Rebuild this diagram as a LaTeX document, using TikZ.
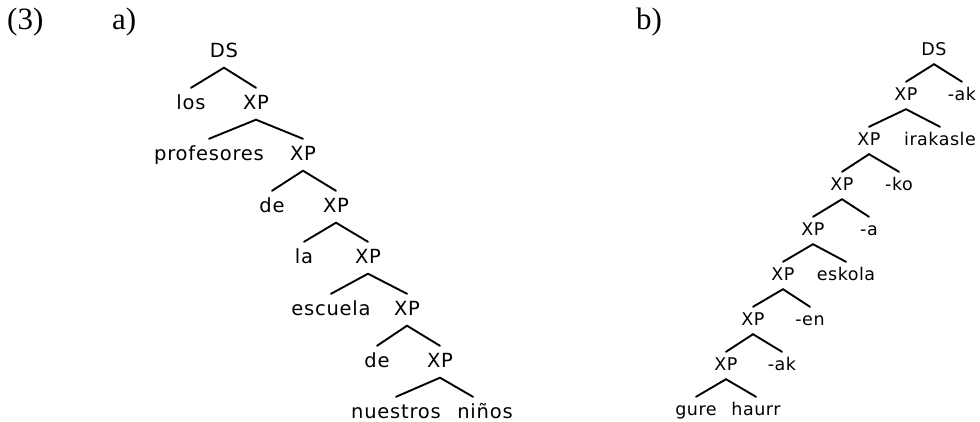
\documentclass[tikz,border=0pt]{standalone}
\usepackage{fontspec}
\setmainfont{Liberation Serif}
\newfontfamily\treefontA[LetterSpace=4]{DejaVu Sans}
\newfontfamily\treefontB[LetterSpace=3]{DejaVu Sans}
\begin{document}
\begin{tikzpicture}[x=1pt,y=-1pt,
  na/.style={anchor=base,inner sep=0pt,text height=21pt,text depth=10.5pt,font=\treefontA\fontsize{19.5}{22}\selectfont},
  nb/.style={anchor=base,inner sep=0pt,text height=18pt,text depth=9pt,font=\treefontB\fontsize{17.5}{20}\selectfont},
  br/.style={line width=1.9pt,line cap=round},
  lbl/.style={anchor=base west,inner sep=0pt,font=\fontsize{31}{34}\selectfont}]
\useasboundingbox (0,0) rectangle (980,421);

% labels
\node[lbl] (num) at (7,29) {(3)};
\node[lbl] (la) at (112,29) {a)};
\node[lbl] (lb) at (636,29) {b)};

% tree a
\node[na] (aDS) at (224,57) {DS};
\node[na] (alos) at (191,109) {los};
\node[na] (aX1) at (256,109) {XP};
\node[na] (aprof) at (209,160) {profesores};
\node[na] (aX2) at (303,160) {XP};
\node[na] (ade1) at (272,212) {de};
\node[na] (aX3) at (336,212) {XP};
\node[na] (ala) at (304,263) {la};
\node[na] (aX4) at (368,263) {XP};
\node[na] (aesc) at (331,315) {escuela};
\node[na] (aX5) at (407,315) {XP};
\node[na] (ade2) at (377,367) {de};
\node[na] (aX6) at (440,367) {XP};
\node[na] (anue) at (396,418) {nuestros};
\node[na] (anin) at (485,418) {niños};

\draw[br] (alos.north) -- (aDS.south) -- (aX1.north);
\draw[br] (aprof.north) -- (aX1.south) -- (aX2.north);
\draw[br] (ade1.north) -- (aX2.south) -- (aX3.north);
\draw[br] (ala.north) -- (aX3.south) -- (aX4.north);
\draw[br] (aesc.north) -- (aX4.south) -- (aX5.north);
\draw[br] (ade2.north) -- (aX5.south) -- (aX6.north);
\draw[br] (anue.north) -- (aX6.south) -- ([xshift=-12pt]anin.north);

% tree b
\node[nb] (bDS) at (934,55) {DS};
\node[nb] (bX1) at (906,100) {XP};
\node[nb] (bak1) at (962,100) {-ak};
\node[nb] (bX2) at (869,145) {XP};
\node[nb] (birak) at (940,145) {irakasle};
\node[nb] (bX3) at (842,190) {XP};
\node[nb] (bko) at (899,190) {-ko};
\node[nb] (bX4) at (813,235) {XP};
\node[nb] (ba) at (869,235) {-a};
\node[nb] (bX5) at (783,280) {XP};
\node[nb] (besk) at (846,280) {eskola};
\node[nb] (bX6) at (753,325) {XP};
\node[nb] (ben) at (810,325) {-en};
\node[nb] (bX7) at (726,370) {XP};
\node[nb] (bak2) at (782,370) {-ak};
\node[nb] (bgure) at (696,415) {gure};
\node[nb] (bhaurr) at (756,415) {haurr};

\draw[br] (bX1.north) -- (bDS.south) -- (bak1.north);
\draw[br] (bX2.north) -- (bX1.south) -- (birak.north);
\draw[br] (bX3.north) -- (bX2.south) -- (bko.north);
\draw[br] (bX4.north) -- (bX3.south) -- (ba.north);
\draw[br] (bX5.north) -- (bX4.south) -- (besk.north);
\draw[br] (bX6.north) -- (bX5.south) -- (ben.north);
\draw[br] (bX7.north) -- (bX6.south) -- (bak2.north);
\draw[br] (bgure.north) -- (bX7.south) -- (bhaurr.north);
\end{tikzpicture}
\end{document}
